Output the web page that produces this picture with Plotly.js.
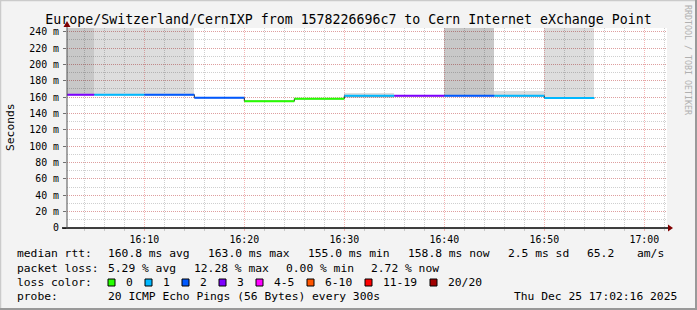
<!DOCTYPE html>
<html><head><meta charset="utf-8">
<script src="https://cdn.plot.ly/plotly-3.0.1.min.js"></script>
<style>html,body{margin:0;padding:0;background:#f3f3f3}#c{width:697px;height:310px}</style>
</head><body><div id="c"></div>
<script>
// ---- data ----
const times = ['2025-12-25 16:00:00','2025-12-25 16:05:00','2025-12-25 16:10:00','2025-12-25 16:15:00',
  '2025-12-25 16:20:00','2025-12-25 16:25:00','2025-12-25 16:30:00','2025-12-25 16:35:00',
  '2025-12-25 16:40:00','2025-12-25 16:45:00','2025-12-25 16:50:00','2025-12-25 16:55:00'];
const medianMs = [163.0, 163.0, 163.0, 159.3, 155.0, 158.0, 161.6, 161.7, 161.7, 161.6, 158.8];
const lossCount = [3, 1, 2, 2, 0, 0, 1, 3, 2, 1, 1];
const smokeLow  = [163.0, 163.0, 163.0, null, null, null, 158.5, null, 161.7, 161.6, 158.8];
const smokeHigh = [260, 260, 260, null, null, null, 165.5, null, 260, 167.5, 260];
const smokeShade = [2, 1, 1, 0, 0, 0, 1, 0, 2, 1, 1];
const lossLabels = ['0','1','2','3','4-5','6-10','11-19','20/20'];
const lossColors = ['#26ff00','#00b8ff','#0059ff','#7e00ff','#ff00ff','#ff5500','#ff0000','#a10000'];
const yTickVals = [0,20,40,60,80,100,120,140,160,180,200,220,240];
const yTickText = ['0','20 m','40 m','60 m','80 m','100 m','120 m','140 m','160 m','180 m','200 m','220 m','240 m'];
const titleText = 'Europe/Switzerland/CernIXP from 1578226696c7 to Cern Internet eXchange Point';
const legendRows = [
  [['median rtt:',16],['160.8 ms avg',107],['163.0 ms max',207],['155.0 ms min',307],['158.8 ms now',407],['2.5 ms sd',507],['65.2',586],['am/s',636]],
  [['packet loss:',16],['5.29 % avg',107],['12.28 % max',193],['0.00 % min',285],['2.72 % now',370]],
  [['loss color:',16]],
  [['probe:',16],['20 ICMP Echo Pings (56 Bytes) every 300s',107],['Thu Dec 25 17:02:16 2025',513]]
];
const lossBoxX = [108, 145, 182, 219, 256, 307, 365, 430];

// ---- geometry ----
const W=697,H=310,L=67,R=30,T=28,B=82;
const PW=W-L-R, PH=H-T-B;
const px=x=>(x-L)/PW, py=y=>(H-B-y)/PH;
const MONO='DejaVu Sans Mono';
const shadeCol=['rgba(0,0,0,0)','rgba(0,0,0,0.135)','rgba(0,0,0,0.215)'];

const traces=[];
traces.push({type:'bar', x:times.slice(0,11), base:smokeLow,
  y:smokeHigh.map((h,i)=>h==null?null:h-smokeLow[i]),
  width:300000, offset:0, marker:{color:smokeShade.map(s=>shadeCol[s]), line:{width:0}},
  hoverinfo:'skip', showlegend:false});
traces.push({type:'scatter', mode:'lines', x:times, y:medianMs.concat([medianMs[medianMs.length-1]]),
  line:{shape:'hv', width:1, color:'#202020'}, hoverinfo:'skip', showlegend:false});
function lossIdx(n){ if(n<=3) return n; if(n<=5) return 4; if(n<=10) return 5; if(n<=19) return 6; return 7; }
for(let i=0;i<medianMs.length;i++){
  traces.push({type:'scatter', mode:'lines', x:[times[i],times[i+1]], y:[medianMs[i],medianMs[i]],
    line:{width:2, color:lossColors[lossIdx(lossCount[i])]}, hoverinfo:'skip', showlegend:false});
}

const annotations=[];
const shapes=[];
legendRows.forEach((row,r)=>{
  const yc=254+r*14;
  row.forEach(([t,x])=>annotations.push({text:t, xref:'paper', yref:'paper', x:px(x-1), y:py(yc),
    xanchor:'left', yanchor:'middle', showarrow:false, font:{family:MONO,size:11.3,color:'#000'}}));
});
lossBoxX.forEach((bx,i)=>{
  shapes.push({type:'rect', xref:'paper', yref:'paper', x0:px(bx), x1:px(bx+7), y0:py(279), y1:py(286),
    fillcolor:lossColors[i], line:{color:'#000', width:1}});
  annotations.push({text:lossLabels[i], xref:'paper', yref:'paper', x:px(bx+16), y:py(282.3),
    xanchor:'left', yanchor:'middle', showarrow:false, font:{family:MONO,size:11.3,color:'#000'}});
});
annotations.push({text:'Seconds', xref:'paper', yref:'paper', x:px(10), y:py(127), textangle:-90,
  xanchor:'center', yanchor:'middle', showarrow:false, font:{family:MONO,size:11.3,color:'#000'}});
annotations.push({text:'RRDTOOL / TOBI OETIKER', xref:'paper', yref:'paper', x:px(688), y:py(60), textangle:90,
  xanchor:'center', yanchor:'middle', showarrow:false, font:{family:MONO,size:8.3,color:'#b0b0b0'}});

shapes.push({type:'line', xref:'paper', yref:'paper', x0:px(62), x1:px(668), y0:py(228), y1:py(228), line:{color:'#000', width:1.5}});
shapes.push({type:'line', xref:'paper', yref:'paper', x0:px(67), x1:px(67), y0:py(228), y1:py(26), line:{color:'#505050', width:1}});
shapes.push({type:'path', xref:'paper', yref:'paper',
  path:`M ${px(668)} ${py(224.5)} L ${px(673)} ${py(228)} L ${px(668)} ${py(231.5)} Z`, fillcolor:'#800000', line:{width:0}});
shapes.push({type:'path', xref:'paper', yref:'paper',
  path:`M ${px(63.5)} ${py(27)} L ${px(67)} ${py(21)} L ${px(70.5)} ${py(27)} Z`, fillcolor:'#800000', line:{width:0}});
shapes.push({type:'line', xref:'paper', yref:'paper', x0:px(0), x1:px(697), y0:py(0.5), y1:py(0.5), line:{color:'#cbcbcb', width:1.5}});
shapes.push({type:'line', xref:'paper', yref:'paper', x0:px(0.5), x1:px(0.5), y0:py(0), y1:py(310), line:{color:'#cbcbcb', width:1.5}});
shapes.push({type:'line', xref:'paper', yref:'paper', x0:px(0), x1:px(697), y0:py(309), y1:py(309), line:{color:'#999', width:2}});
shapes.push({type:'line', xref:'paper', yref:'paper', x0:px(696), x1:px(696), y0:py(0), y1:py(310), line:{color:'#999', width:2}});

const majorGrid='rgba(235,120,120,0.55)', minorGrid='rgba(175,175,175,0.6)';
const layout={
  width:W, height:H, margin:{l:L,r:R,t:T,b:B,pad:0},
  paper_bgcolor:'#f3f3f3', plot_bgcolor:'#ffffff',
  showlegend:false, bargap:0, barmode:'overlay',
  title:{text:titleText, x:0.5, xref:'container', xanchor:'center', y:1-19/H, yref:'container', yanchor:'middle',
    font:{family:MONO, size:13.25, color:'#000'}},
  xaxis:{type:'date', range:['2025-12-25 16:02:16','2025-12-25 17:02:16'], tick0:'2025-12-25 16:00:00', dtick:600000,
    tickformat:'%H:%M', ticks:'outside', ticklen:2, tickcolor:majorGrid, ticklabelstandoff:0,
    showgrid:true, gridcolor:majorGrid, griddash:'1px,1px', gridwidth:1,
    minor:{dtick:120000, tick0:'2025-12-25 16:00:00', showgrid:true, gridcolor:minorGrid, griddash:'1px,1px', gridwidth:1, ticks:'outside', ticklen:2, tickcolor:minorGrid},
    showline:false, zeroline:false, fixedrange:true,
    tickfont:{family:MONO, size:9.9, color:'#000'}},
  yaxis:{range:[0,244.5], tickvals:yTickVals, ticktext:yTickText, ticks:'outside', ticklen:3, tickcolor:'#707070',
    ticklabelstandoff:2,
    showgrid:true, gridcolor:majorGrid, griddash:'1px,1px', gridwidth:1,
    minor:{dtick:10, tick0:0, showgrid:true, gridcolor:minorGrid, griddash:'1px,1px', gridwidth:1},
    showline:false, zeroline:false, fixedrange:true,
    tickfont:{family:MONO, size:9.9, color:'#000'}},
  annotations, shapes
};
Plotly.newPlot('c', traces, layout, {staticPlot:true, displayModeBar:false});
</script></body></html>
